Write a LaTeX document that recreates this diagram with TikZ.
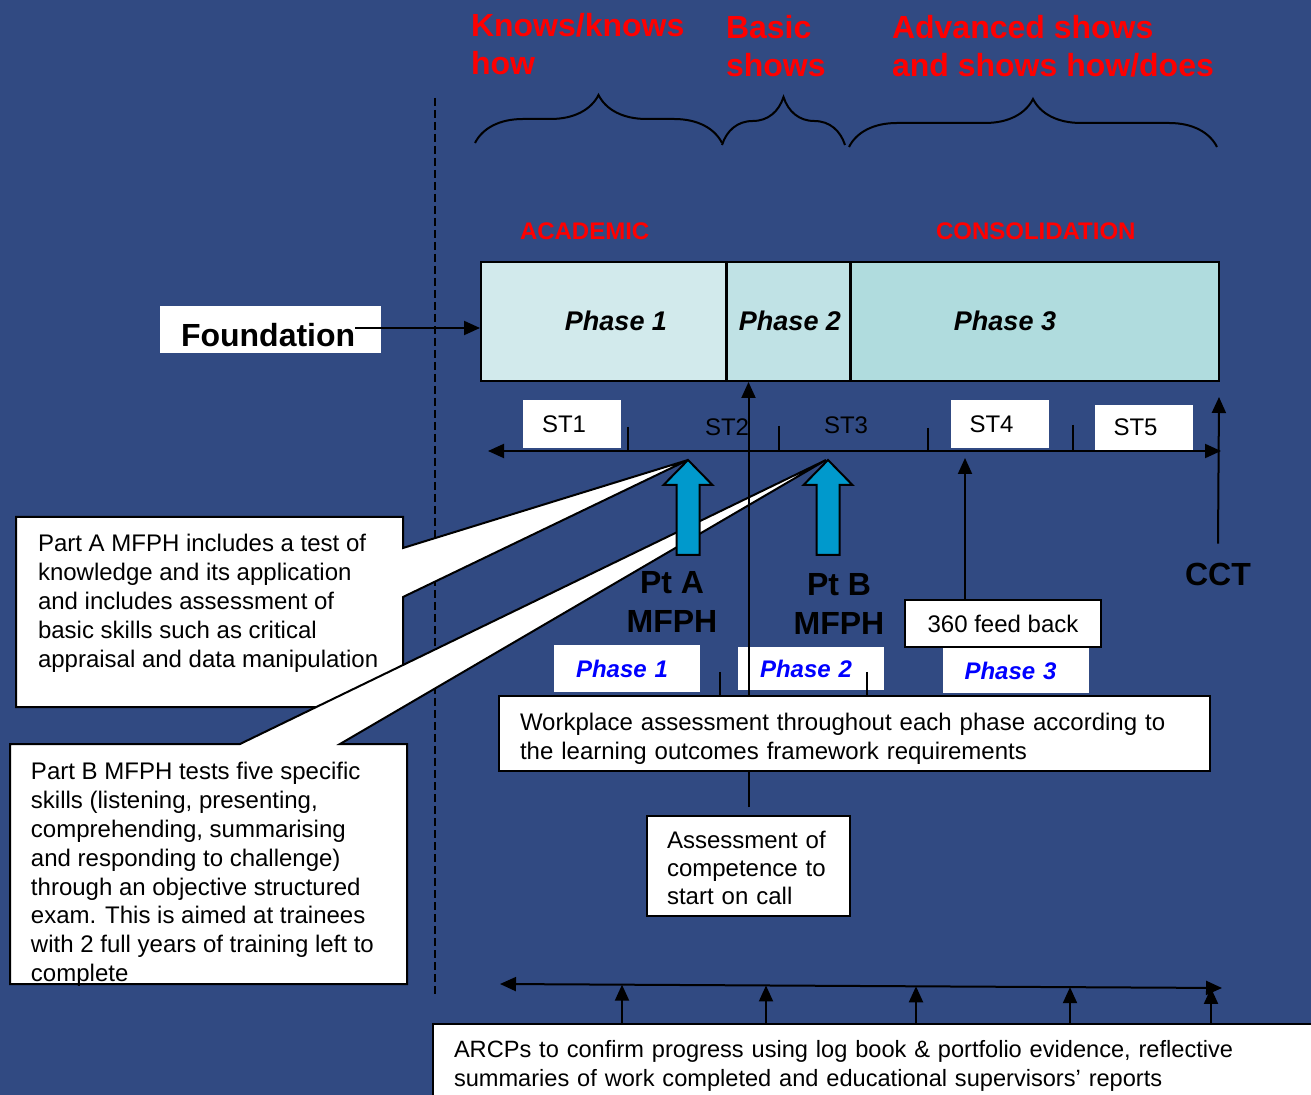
\documentclass[tikz,border=0pt]{standalone}
\usepackage{fontspec}
\setmainfont{Liberation Sans}
\usetikzlibrary{arrows.meta, decorations.pathreplacing}
\definecolor{slide}{RGB}{49,74,130}
\definecolor{phaseA}{RGB}{210,234,236}
\definecolor{phaseB}{RGB}{192,226,229}
\definecolor{phaseC}{RGB}{176,220,222}
\definecolor{examblue}{RGB}{0,153,204}

\begin{document}
\begin{tikzpicture}[x=0.5pt, y=-0.5pt, >={Triangle[length=8pt,width=7pt]}, line width=1pt]
        \tikzset{
            skilltxt/.style = {font=\bfseries\fontsize{16}{19}\selectfont, text=red, align=left, inner sep=0pt, anchor=north west},
            stagetxt/.style = {font=\bfseries\fontsize{12}{14}\selectfont, text=red, inner sep=0pt, anchor=base west},
            phbox/.style    = {draw, minimum height=59.5pt},
            phtxt/.style    = {font=\bfseries\itshape\fontsize{13.5}{16}\selectfont, inner sep=0pt},
            bigtxt/.style   = {font=\bfseries\fontsize{16}{19.5}\selectfont, align=center, inner sep=0pt},
            bodytxt/.style  = {font=\fontsize{12}{14.4}\selectfont, align=left, inner sep=0pt},
            wbox/.style     = {fill=white, font=\fontsize{12}{14.4}\selectfont, align=left},
            stbox/.style    = {wbox, minimum width=49pt, text width=30pt, inner xsep=9.5pt},
            pbox/.style     = {wbox, minimum width=73pt, text width=51pt, inner xsep=11pt, text=blue, font=\bfseries\itshape\fontsize{12}{14}\selectfont},
            callout/.style  = {fill=white, draw=black},
            examarrow/.style = {fill=examblue, draw=black},
            curly/.style    = {decorate, decoration={brace, amplitude=24pt}}
        }
        \fill[slide] (0,0) rectangle (1311,1095);
        \useasboundingbox (0,0) rectangle (1311,1095);

        \draw[dash pattern=on 4pt off 2pt, line width=0.8pt] (435,98) -- (435,995);

        % levels of competence
        \node[skilltxt] (KNOW) at (470,12) {Knows/knows\\how};
        \node[skilltxt] (BASIC) at (725,14) {Basic\\shows};
        \node[skilltxt] (ADV) at (891,14) {Advanced shows\\and shows how/does};
        \draw[curly] (475,143) -- (722,143);
        \draw[curly] (722,145) -- (845,145);
        \draw[curly] (849,147) -- (1217,147);

        \node[stagetxt] (ACAD) at (519,240) {ACADEMIC};
        \node[stagetxt] (CONS) at (935,240) {CONSOLIDATION};

        % phases
        \node[phbox, fill=phaseA, minimum width=122.5pt] (PH1) at (603.5,321.5) {};
        \node[phbox, fill=phaseB, minimum width=61.5pt] (PH2) at (788.5,321.5) {};
        \node[phbox, fill=phaseC, minimum width=184pt] (PH3) at (1035,321.5) {};
        \node[phtxt] (PH1T) at (616,321) {Phase 1};
        \node[phtxt] (PH2T) at (790,321) {Phase 2};
        \node[phtxt] (PH3T) at (1005,321) {Phase 3};

        \node[fill=white, minimum width=110.5pt, minimum height=23.5pt] (FND) at (270.5,329.5) {};
        \node[bigtxt, anchor=base west] (FNDT) at (180,347) {Foundation};
        \coordinate (FNDOUT) at (355,328);
        \draw[->] (FNDOUT) -- (FNDOUT -| PH1.west);

        % time line
        \coordinate (AXL) at (488,451);
        \coordinate (AXR) at (1221,451);
        \draw[<->] (AXL) -- (AXR);
        \foreach \x/\y in {628/427, 779/426, 928/428, 1073/425}
            \draw (\x,\y) -- (\x,451);
        \node[stbox, minimum height=24pt] (ST1) at (572,424) {ST1};
        \node[bodytxt] (ST2) at (727,427) {ST2};
        \node[bodytxt] (ST3) at (846,425) {ST3};
        \node[stbox, minimum height=24pt] (ST4) at (999.5,424) {ST4};
        \node[stbox, minimum height=22.5pt] (ST5) at (1143.5,427.5) {ST5};

        % exam call-outs
        \draw[callout] (16,517) -- (403,517) -- (403,548) -- (688,460) -- (403,597) -- (403,707) -- (16,707) -- cycle;
        \node[bodytxt, anchor=north west] (PARTA) at (37,533.5) {Part A MFPH includes a test of\\knowledge and its application\\and includes assessment of\\basic skills such as critical\\appraisal and data manipulation};
        \draw[callout] (10,744) -- (240,744) -- (826,460) -- (340,744) -- (407,744) -- (407,984) -- (10,984) -- cycle;
        \node[bodytxt, anchor=north west] (PARTB) at (30,761.5) {Part B MFPH tests five specific\\skills (listening, presenting,\\comprehending, summarising\\and responding to challenge)\\through an objective structured\\exam. This is aimed at trainees\\with 2 full years of training left to\\complete};

        \foreach \x in {688,828}
            \draw[examarrow] (\x,460) -- ++(24.5,25) -- ++(-13,0) -- ++(0,70) -- ++(-23,0) -- ++(0,-70) -- ++(-13,0) -- cycle;
        \node[bigtxt] (PTA) at (672,602) {Pt A\\MFPH};
        \node[bigtxt] (PTB) at (839,604) {Pt B\\MFPH};

        % workplace assessment
        \node[pbox, minimum height=23.5pt] (PL1) at (627,668.5) {Phase 1};
        \node[pbox, minimum height=21.5pt] (PL2) at (811,668.5) {Phase 2};
        \node[pbox, minimum height=22.5pt] (PL3) at (1015.5,670.5) {Phase 3};
        \draw (720,672) -- (720,697);
        \draw (867,672) -- (867,697);

        \node[wbox, draw, minimum width=101.5pt, minimum height=50pt, text width=81.5pt, inner xsep=10pt,
              font=\fontsize{12}{14}\selectfont] (ONC) at (748.5,866) {\rule{0pt}{11pt}Assessment of\\competence to\\start on call};
        \draw[->] ([yshift=4pt]ONC.north) -- (ONC.north |- PH2.south);
        \node[wbox, draw, minimum width=355.5pt, minimum height=36.5pt, text width=334.5pt, inner xsep=10.5pt] (WPA) at (854.5,733.5)
            {\rule{0pt}{14pt}Workplace assessment throughout each phase according to\\the learning outcomes framework requirements};

        \node[wbox, draw, minimum width=98pt, minimum height=23.5pt, align=center] (FB) at (1003,623.5) {360 feed back};
        \coordinate (FBUP) at (965,458);
        \draw[->] (FBUP |- FB.north) -- (FBUP);

        \node[bigtxt] (CCT) at (1218,574) {CCT};
        \coordinate (CCTUP) at (1219,397);
        \draw[->] ([yshift=9pt]CCT.north) -- (CCTUP);

        % ARCPs
        \coordinate (BL) at (500,984);
        \coordinate (BR) at (1222,988);
        \draw[<->] (BL) -- (BR);
        \node[wbox, draw, anchor=north west, minimum width=444pt, minimum height=42pt, text width=423pt, inner xsep=10.5pt,
              font=\fontsize{11.8}{14.2}\selectfont] (ARCP) at (432,1023)
            {ARCPs to confirm progress using log book \& portfolio evidence, reflective\\summaries of work completed and educational supervisors’ reports};
        \foreach \x in {622,766,916,1070,1211}
            \draw[->] (ARCP.north -| \x,0) -- (\x,{984+4*(\x-500)/722});
    \end{tikzpicture}
\end{document}
